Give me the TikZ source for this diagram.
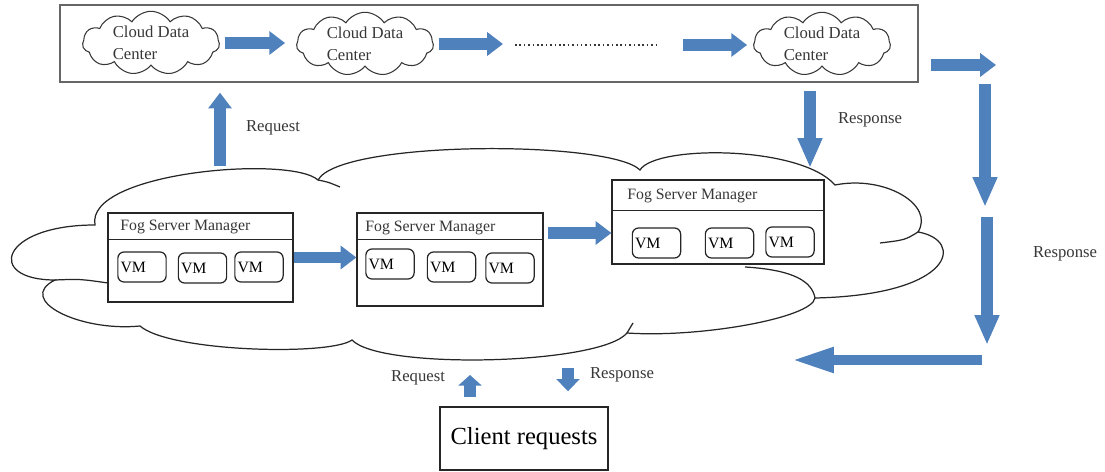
\documentclass[tikz,border=0pt]{standalone}
\usepackage{fontspec}
\setmainfont{Liberation Serif}
\usetikzlibrary{arrows.meta,shapes.symbols,calc}
\definecolor{flowblue}{RGB}{79,129,189}
\definecolor{inkgray}{RGB}{55,55,55}

\tikzset{
  flow/.style={draw=flowblue, line width=6.8pt, -{Triangle[length=#1,width=13pt]}},
  flow/.default=9pt,
  dcloud/.style={cloud, cloud puffs=11, cloud puff arc=115, aspect=2.4, draw=inkgray, line width=0.6pt,
    inner sep=0pt, minimum width=2.74cm, minimum height=1.14cm, align=left, text=inkgray,
    font=\fontsize{9.5}{12.5}\selectfont},
  cloudline/.style={draw=black!85, line width=0.7pt},
  fogbox/.style={draw=black!85, line width=0.7pt, fill=white},
  fogtitle/.style={anchor=west, inner sep=0pt, text=inkgray, font=\fontsize{9}{11}\selectfont},
  vmbox/.style={draw=black!85, line width=0.7pt, rounded corners=3.5pt, minimum width=0.96cm,
    minimum height=0.6cm, text width=0.86cm, inner xsep=1.5pt, align=left, font=\fontsize{9}{10}\selectfont},
  caption/.style={text=inkgray, font=\fontsize{9.5}{11}\selectfont},
}

\begin{document}
\begin{tikzpicture}[x=0.02cm, y=-0.02cm]
    \useasboundingbox (0,0) rectangle (1105,472);

    % data centre row
    \node[draw=black!60, line width=0.8pt, minimum width=17.16cm, minimum height=1.54cm] (dcbox) at (489,43.5) {};
    \node[dcloud] (dc1) at (151,43) {Cloud Data\\Center};
    \node[dcloud] (dc2) at (365,44) {Cloud Data\\Center};
    \node[dcloud] (dc3) at (822,44) {Cloud Data\\Center};
    \coordinate (dotsl) at (515,45);
    \coordinate (dotsr) at (657,45);
    \draw[flow, shorten <=0.1cm, shorten >=0.22cm] (dc1.east) -- (dc1.east -| dc2.west);
    \draw[flow, shorten <=0.1cm, shorten >=0.24cm] (dc2.east) -- (dc2.east -| dotsl);
    \draw[inkgray, line width=0.7pt, dash pattern=on 0.9pt off 1.6pt] (dotsl) -- (dotsr);
    \draw[flow, shorten <=0.52cm, shorten >=0.12cm] (dotsr) -- (dotsr -| dc3.west);

    % fog cloud
    \draw[cloudline, fill=white] (95,225)
        .. controls (85,172) and (290,155) .. (318,180)
        .. controls (340,140) and (610,140) .. (640,170)
        .. controls (655,145) and (800,145) .. (835,185)
        .. controls (885,175) and (935,205) .. (918,232)
        .. controls (965,240) and (955,295) .. (815,298)
        .. controls (812,318) and (700,338) .. (627,333)
        .. controls (600,365) and (380,370) .. (352,340)
        .. controls (330,356) and (170,352) .. (140,326)
        .. controls (80,332) and (15,300) .. (55,280)
        .. controls (-15,280) and (0,225) .. (95,225) -- cycle;
    \draw[cloudline] (318,180) .. controls (328,182) .. (340,187);
    \draw[cloudline] (918,232) .. controls (905,240) .. (880,243);
    \draw[cloudline] (745,267) .. controls (795,270) and (812,282) .. (815,298);
    \draw[cloudline] (55,280) .. controls (80,279) .. (108,283);
    \draw[cloudline] (627,333) .. controls (630,328) .. (633,323);

    % fog servers
    \node[fogbox, minimum width=3.7cm, minimum height=1.78cm] (fog1) at (200.5,257.5) {};
    \node[fogbox, minimum width=3.72cm, minimum height=1.86cm] (fog2) at (450,259.5) {};
    \node[fogbox, minimum width=4.24cm, minimum height=1.68cm] (fog3) at (718,222) {};
    \draw[cloudline] ($(fog1.north west)+(0,27)$) -- ($(fog1.north east)+(0,27)$);
    \draw[cloudline] ($(fog2.north west)+(0,27)$) -- ($(fog2.north east)+(0,27)$);
    \draw[cloudline] ($(fog3.north west)+(0,31)$) -- ($(fog3.north east)+(0,31)$);
    \node[fogtitle] (fog1t) at (120,227) {Fog Server Manager};
    \node[fogtitle] (fog2t) at (365,228) {Fog Server Manager};
    \node[fogtitle] (fog3t) at (627,196) {Fog Server Manager};

    \node[vmbox] (vm11) at (142,267) {VM};
    \node[vmbox] (vm12) at (202.5,268) {VM};
    \node[vmbox] (vm13) at (259,267) {VM};
    \node[vmbox] (vm21) at (390,264) {VM};
    \node[vmbox] (vm22) at (451.5,267) {VM};
    \node[vmbox] (vm23) at (510,268) {VM};
    \node[vmbox] (vm31) at (656.5,243) {VM};
    \node[vmbox] (vm32) at (729.5,243) {VM};
    \node[vmbox] (vm33) at (790,242) {VM};

    \coordinate (f23) at (548,233);
    \draw[flow] (fog1.east) -- (fog1.east -| fog2.west);
    \draw[flow] (f23) -- (f23 -| fog3.west);

    % requests and responses
    \coordinate (reqtail) at (220,166);
    \coordinate (resptip) at (810,168);
    \draw[flow, shorten >=0.2cm] (reqtail) -- (reqtail |- dcbox.south);
    \draw[flow={17pt}, shorten <=0.16cm] (resptip |- dcbox.south) -- (resptip);
    \node[caption] (reqlbl) at (273,128) {Request};
    \node[caption] (resplbl) at (870,120) {Response};

    \coordinate (ra1) at (931,65);
    \coordinate (ra2) at (996,65);
    \coordinate (rb1) at (985,84);
    \coordinate (rb2) at (985,207);
    \coordinate (rc1) at (987,217);
    \coordinate (rc2) at (987,345);
    \coordinate (rd1) at (982,360);
    \coordinate (rd2) at (790,360);
    \draw[flow] (ra1) -- (ra2);
    \draw[flow={17pt}] (rb1) -- (rb2);
    \draw[flow={17pt}] (rc1) -- (rc2);
    \draw[flow={25pt}, line width=6pt] (rd1) -- (rd2);
    \node[caption] (resplbl2) at (1065,254) {Response};

    % client
    \node[draw=black!85, line width=0.8pt, minimum width=3.36cm, minimum height=1.26cm,
        font=\fontsize{14}{16}\selectfont] (client) at (524,438.5) {Client requests};
    \coordinate (cq) at (470,375);
    \coordinate (cr) at (568,368);
    \draw[flow={6pt}, shorten <=0.18cm] (cq |- client.north) -- (cq);
    \draw[flow={7pt}, shorten >=0.3cm] (cr) -- (cr |- client.north);
    \node[caption] (reqlbl2) at (418,378) {Request};
    \node[caption] (resplbl3) at (622,375) {Response};
\end{tikzpicture}
\end{document}
